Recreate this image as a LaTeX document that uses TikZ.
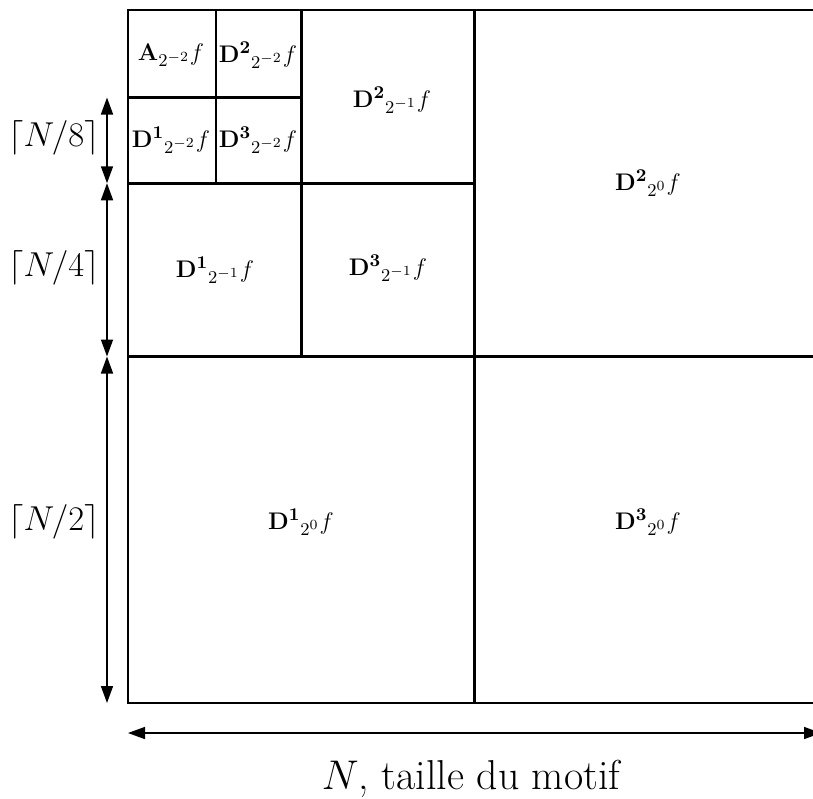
\documentclass[tikz,border=0pt]{standalone}
\usetikzlibrary{arrows.meta}
\DeclareMathSizes{12.5}{12.5}{8.9}{6.6}
\begin{document}
\begin{tikzpicture}[x=0.5pt,y=-0.5pt,
  cell/.style={line width=1.4pt},
  lab/.style={font=\fontsize{12.5}{15}\selectfont, inner sep=0pt},
  side/.style={font=\fontsize{16.5}{20}\selectfont, inner sep=0pt},
  dim/.style={line width=0.8pt, {Triangle[length=8.5pt,width=6pt]}-{Triangle[length=8.5pt,width=6pt]}}]
\useasboundingbox (0,0) rectangle (813,798);
\clip (0,0) rectangle (813,798);
\draw[cell] (128,10) rectangle (821,703);
\draw[cell] (474.5,10) -- (474.5,703);
\draw[cell] (128,356.5) -- (821,356.5);
\draw[cell] (301.25,10) -- (301.25,356.5);
\draw[cell] (128,183.25) -- (474.5,183.25);
\draw[cell] (216,10) -- (216,183.25);
\draw[cell] (128,97.5) -- (301.25,97.5);
% labels
\node[lab] (a2) at (171,55) {$\mathbf{A}_{2^{-2}}f$};
\node[lab] (d22) at (258,55) {$\mathbf{D^2}_{2^{-2}}f$};
\node[lab] (d12) at (171,140) {$\mathbf{D^1}_{2^{-2}}f$};
\node[lab] (d32) at (258,140) {$\mathbf{D^3}_{2^{-2}}f$};
\node[lab] (d21) at (392,100) {$\mathbf{D^2}_{2^{-1}}f$};
\node[lab] (d11) at (215,270) {$\mathbf{D^1}_{2^{-1}}f$};
\node[lab] (d31) at (388,268) {$\mathbf{D^3}_{2^{-1}}f$};
\node[lab] (d20) at (648,183) {$\mathbf{D^2}_{2^{0}}f$};
\node[lab] (d10) at (301,522) {$\mathbf{D^1}_{2^{0}}f$};
\node[lab] (d30) at (648,522) {$\mathbf{D^3}_{2^{0}}f$};
% dimension arrows
\coordinate (l0) at (107,97.5);
\coordinate (l1) at (107,183.25);
\coordinate (l2) at (107,356.5);
\coordinate (l3) at (107,703);
\draw[dim] (l0) -- (l1);
\draw[dim] (l1) -- (l2);
\draw[dim] (l2) -- (l3);
\node[side] (n8) at (54,138) {$\lceil N/8\rceil$};
\node[side] (n4) at (54,268) {$\lceil N/4\rceil$};
\node[side] (n2) at (54,522) {$\lceil N/2\rceil$};
\coordinate (b0) at (128,733);
\coordinate (b1) at (821,733);
\draw[dim] (b0) -- (b1);
\node[side, font=\fontsize{20.9}{25}\selectfont, anchor=base] (nt) at (471,789) {$N$, taille du motif};
\end{tikzpicture}
\end{document}
